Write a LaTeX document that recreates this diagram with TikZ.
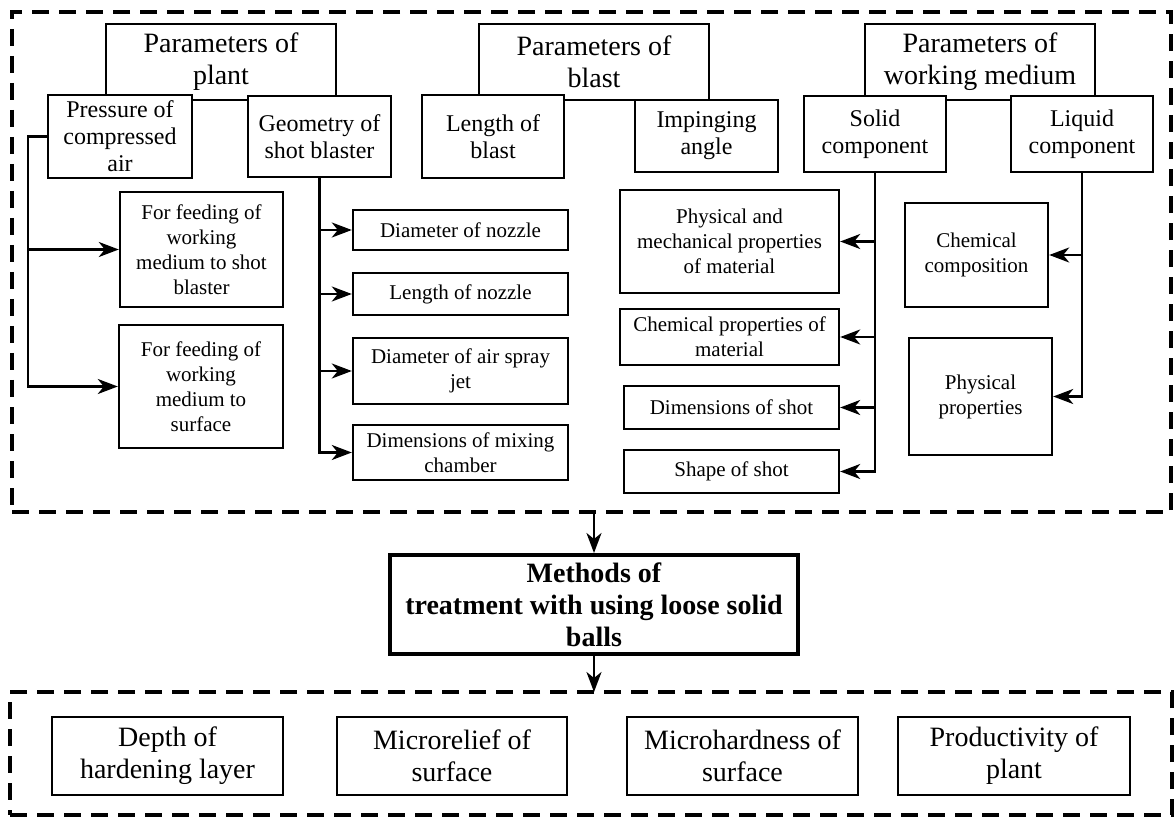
\documentclass[tikz,border=0pt]{standalone}
\usepackage{fontspec}
\setmainfont{Liberation Serif}
\usetikzlibrary{arrows.meta,positioning}

\begin{document}
\begin{tikzpicture}[
    x=0.5pt, y=-0.5pt,
    box/.style={draw, line width=1.2pt, fill=white, align=center, inner sep=2pt, font=\fontsize{12}{13.5}\selectfont},
    headbox/.style={box, minimum width=115pt, minimum height=38pt, font=\fontsize{14}{16}\selectfont},
    leafbox/.style={box, font=\fontsize{10.5}{12.5}\selectfont},
    resultbox/.style={box, minimum height=39pt, font=\fontsize{14}{16}\selectfont},
    mainbox/.style={box, line width=2pt, font=\bfseries\fontsize{14}{16}\selectfont},
    frame/.style={draw, line width=2pt, dash pattern=on 8.5pt off 5pt, inner sep=0pt, outer sep=0pt},
    arrow/.style={-{Stealth[length=10pt, width=7.5pt, inset=3pt]}, line width=1.2pt}
  ]
    \useasboundingbox (0,0) rectangle (1175,819);

    % dashed frames
    \node[frame, minimum width=579.5pt, minimum height=250pt] (params) at (591.5,262) {};
    \node[frame, minimum width=581pt, minimum height=61.5pt] (results) at (591,753.5) {};

    % plant
    \node[headbox] (plant) at (221,62) {Parameters of\\plant};
    \node[box, minimum width=72pt, minimum height=41.5pt] (press) at (120,136.5) {Pressure of\\compressed\\air};
    \node[box, minimum width=71.5pt, minimum height=40.5pt] (geom) at (319.5,136.5) {Geometry of\\shot blaster};
    \node[leafbox, minimum width=81.5pt, minimum height=57.5pt] (feed1) at (201.5,249.5) {For feeding of\\working\\medium to shot\\blaster};
    \node[leafbox, minimum width=82pt, minimum height=61.5pt] (feed2) at (201,386.5) {For feeding of\\working\\medium to\\surface};
    \node[leafbox, minimum width=107.5pt, minimum height=20pt] (dnozzle) at (460.5,230) {Diameter of nozzle};
    \node[leafbox, minimum width=107.5pt, minimum height=21pt] (lnozzle) at (460.5,294) {Length of nozzle};
    \node[leafbox, minimum width=107.5pt, minimum height=33pt] (djet) at (460.5,371) {Diameter of air spray\\jet};
    \node[leafbox, minimum width=107.5pt, minimum height=27.5pt] (dmix) at (460.5,452.5) {Dimensions of mixing\\chamber};

    % blast
    \node[headbox] (blast) at (594,62) {Parameters of\\blast};
    \node[box, minimum width=71pt, minimum height=41.5pt] (lblast) at (493,136.5) {Length of\\blast};
    \node[box, minimum width=71.5pt, minimum height=36pt] (angle) at (706.5,136) {Impinging\\angle};

    % working medium
    \node[headbox] (medium) at (980,62) {Parameters of\\working medium};
    \node[box, minimum width=71pt, minimum height=38pt] (solid) at (875,134) {Solid\\component};
    \node[box, minimum width=71pt, minimum height=38pt] (liquid) at (1082,134) {Liquid\\component};
    \node[leafbox, minimum width=109.5pt, minimum height=51.5pt] (physmech) at (729.5,241.5) {Physical and\\mechanical properties\\of material};
    \node[leafbox, minimum width=109.5pt, minimum height=28pt] (chemprop) at (729.5,337) {Chemical properties of\\material};
    \node[leafbox, minimum width=107.5pt, minimum height=21.5pt] (dshot) at (731.5,407.5) {Dimensions of shot};
    \node[leafbox, minimum width=107.5pt, minimum height=21.5pt] (sshot) at (731.5,471.5) {Shape of shot};
    \node[leafbox, minimum width=71.5pt, minimum height=52pt] (chemcomp) at (976.5,255) {Chemical\\composition};
    \node[leafbox, minimum width=71.5pt, minimum height=58.5pt] (physprop) at (980.5,396.5) {Physical\\properties};

    % method and results
    \node[mainbox, minimum width=204pt, minimum height=49.5pt] (methods) at (594,604.5) {Methods of\\treatment with using loose solid\\balls};
    \node[resultbox, minimum width=115.5pt] (depth) at (167.5,756) {Depth of\\hardening layer};
    \node[resultbox, minimum width=115pt] (relief) at (452,756) {Microrelief of\\surface};
    \node[resultbox, minimum width=115.5pt] (hard) at (742.5,756) {Microhardness of\\surface};
    \node[resultbox, minimum width=116pt] (prod) at (1014,756) {Productivity of\\plant};

    % connectors
    \draw[arrow] (press.west) -- ++(-19,0) |- (feed1.west);
    \draw[arrow] (press.west) -- ++(-19,0) |- (feed2.west);
    \foreach \t in {dnozzle,lnozzle,djet,dmix}
      \draw[arrow] (geom.south) |- (\t.west);
    \foreach \t in {physmech,chemprop,dshot,sshot}
      \draw[arrow] (solid.south) |- (\t.east);
    \foreach \t in {chemcomp,physprop}
      \draw[arrow] (liquid.south) |- (\t.east);
    \draw[arrow] (methods.north |- params.south) -- (methods.north);
    \draw[arrow] (methods.south) -- (methods.south |- results.north);
  \end{tikzpicture}
\end{document}
